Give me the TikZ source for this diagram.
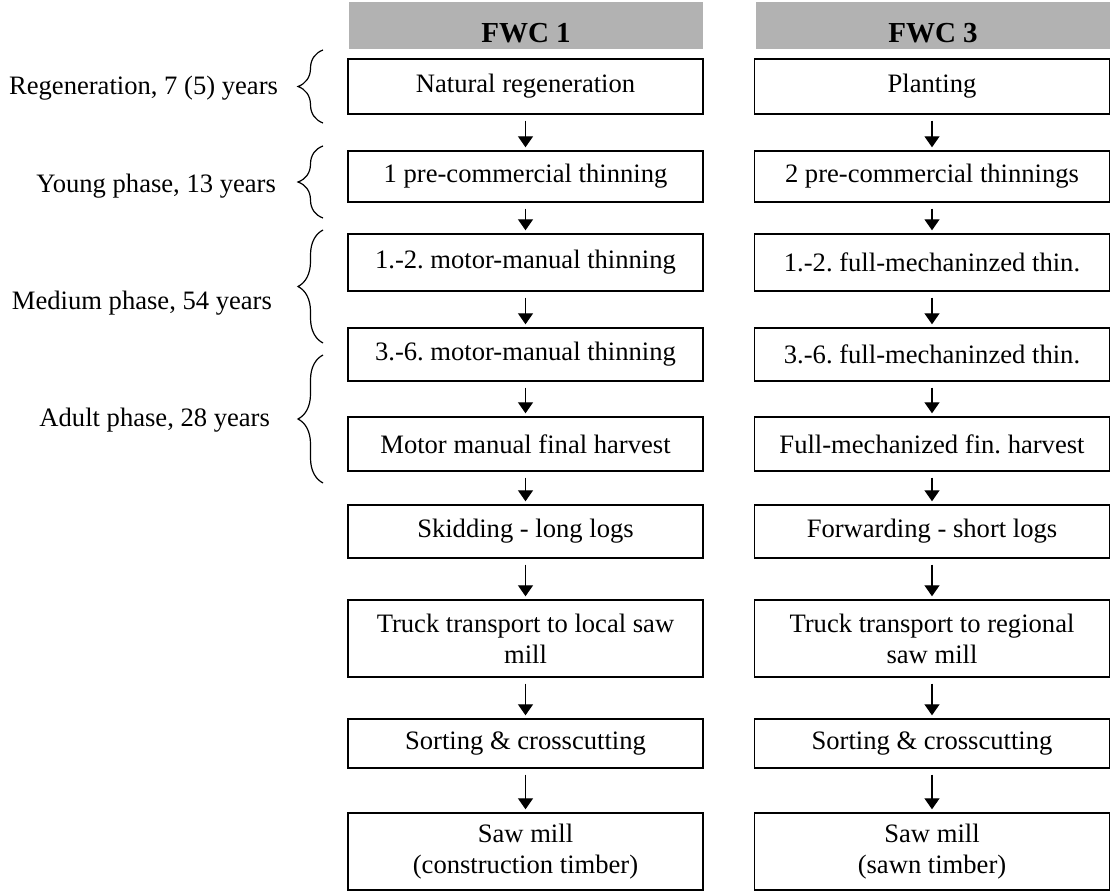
\documentclass[tikz,border=0pt]{standalone}
\usepackage{fontspec}
\setmainfont{Liberation Serif}
\usepackage{tikz}
\usetikzlibrary{arrows.meta, decorations.pathreplacing}
\definecolor{headgray}{gray}{0.7}
\newcommand{\boxfont}{\fontsize{13.3}{15.5}\selectfont}
\newcommand{\headfont}{\fontsize{14.5}{16}\selectfont\bfseries}
\frenchspacing

\begin{document}
\begin{tikzpicture}[
    x=0.5pt, y=-0.5pt,
    box/.style={rectangle, draw, line width=0.7pt, minimum width=177.5pt, minimum height=27pt, inner sep=1pt, align=center, font=\boxfont},
    header/.style={rectangle, fill=headgray, minimum width=177pt, inner xsep=0pt, inner ysep=0pt, text height=20.25pt, text depth=3.25pt, font=\headfont},
    phaselabel/.style={anchor=base east, font=\boxfont},
    bracket/.style={decorate, decoration={brace, amplitude=12.5pt}, line width=0.6pt},
    arrow/.style={-{Triangle[width=7.5pt, length=5.5pt]}, line width=0.65pt, shorten <=3pt, shorten >=1.5pt}
]
\useasboundingbox (0,0) rectangle (1112,892);

% Column headers
\node[header] (fwc1) at (526,25.5) {FWC 1};
\node[header] (fwc3) at (933,25.5) {FWC 3};

% FWC 1
\node[box, minimum height=27.5pt] (natreg) at (525.5,86.5) {Natural regeneration};
\node[box, minimum height=25.5pt] (precomA) at (525.5,176.5) {1 pre-commercial thinning};
\node[box, minimum height=28.5pt] (thinA) at (525.5,262.5) {1.-2. motor-manual thinning};
\node[box, minimum height=26.5pt] (thinB) at (525.5,354.5) {3.-6. motor-manual thinning};
\node[box] (finalA) at (525.5,444) {Motor manual final harvest};
\node[box, minimum height=26.5pt] (skid) at (525.5,531.5) {Skidding - long logs};
\node[box, minimum height=38.5pt] (truckA) at (525.5,638.5) {Truck transport to local saw\\mill};
\node[box, minimum height=24.5pt] (sortA) at (525.5,743.5) {Sorting \& crosscutting};
\node[box, minimum height=38.5pt] (millA) at (525.5,851.5) {Saw mill\\(construction timber)};

\draw[arrow] (natreg) -- (precomA);
\draw[arrow] (precomA) -- (thinA);
\draw[arrow] (thinA) -- (thinB);
\draw[arrow] (thinB) -- (finalA);
\draw[arrow] (finalA) -- (skid);
\draw[arrow] (skid) -- (truckA);
\draw[arrow] (truckA) -- (sortA);
\draw[arrow] (sortA) -- (millA);

% FWC 3
\node[box, minimum height=27.5pt] (plant) at (932,86.5) {Planting};
\node[box, minimum height=25.5pt] (precomB) at (932,176.5) {2 pre-commercial thinnings};
\node[box, minimum height=28.5pt] (thinC) at (932,262.5) {1.-2. full-mechaninzed thin.};
\node[box, minimum height=26.5pt] (thinD) at (932,354.5) {3.-6. full-mechaninzed thin.};
\node[box] (finalB) at (932,444) {Full-mechanized fin. harvest};
\node[box, minimum height=26.5pt] (forward) at (932,531.5) {Forwarding - short logs};
\node[box, minimum height=38.5pt] (truckB) at (932,638.5) {Truck transport to regional\\saw mill};
\node[box, minimum height=24.5pt] (sortB) at (932,743.5) {Sorting \& crosscutting};
\node[box, minimum height=38.5pt] (millB) at (932,851.5) {Saw mill\\(sawn timber)};

\draw[arrow] (plant) -- (precomB);
\draw[arrow] (precomB) -- (thinC);
\draw[arrow] (thinC) -- (thinD);
\draw[arrow] (thinD) -- (finalB);
\draw[arrow] (finalB) -- (forward);
\draw[arrow] (forward) -- (truckB);
\draw[arrow] (truckB) -- (sortB);
\draw[arrow] (sortB) -- (millB);

% Phases
\node[phaselabel] (regen) at (285,95) {Regeneration, 7 (5) years};
\node[phaselabel] (young) at (283,193) {Young phase, 13 years};
\node[phaselabel] (medium) at (279,310) {Medium phase, 54 years};
\node[phaselabel] (adult) at (277,427) {Adult phase, 28 years};

\draw[bracket] (323,123) -- (323,50);
\draw[bracket] (323,218) -- (323,146);
\draw[bracket] (323,343) -- (323,230);
\draw[bracket] (323,483) -- (323,355);

\end{tikzpicture}
\end{document}
